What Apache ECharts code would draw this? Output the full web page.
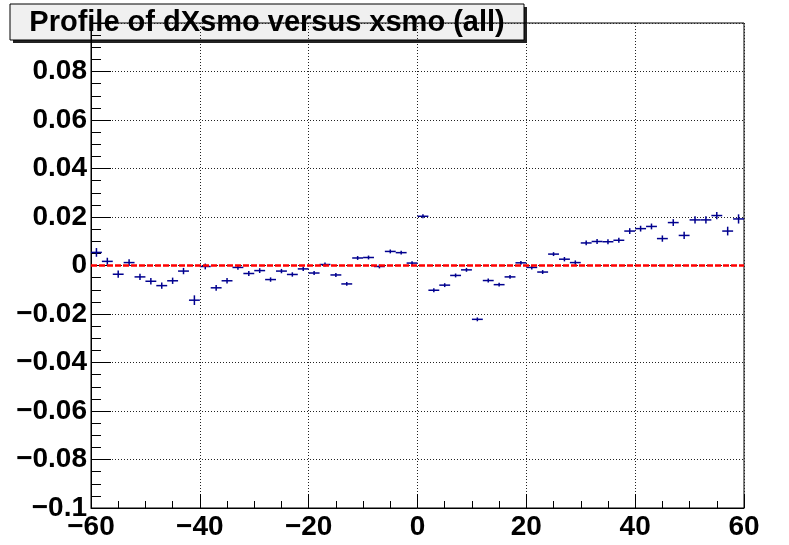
<!DOCTYPE html>
<html>
<head>
<meta charset="utf-8">
<script src="https://cdn.jsdelivr.net/npm/echarts@6/dist/echarts.min.js"></script>
<style>
html,body{margin:0;padding:0;background:#fff;}
#chart{width:789px;height:545px;}
</style>
</head>
<body>
<div id="chart"></div>
<script>
// bin centres (xsmo)
var binCenters = [-59,-57,-55,-53,-51,-49,-47,-45,-43,-41,-39,-37,-35,-33,-31,-29,-27,-25,-23,-21,
  -19,-17,-15,-13,-11,-9,-7,-5,-3,-1,1,3,5,7,9,11,13,15,17,19,
  21,23,25,27,29,31,33,35,37,39,41,43,45,47,49,51,53,55,57,59];
// profile means (dXsmo)
var profileMeans = [0.0054,0.0017,-0.0036,0.0012,-0.0047,-0.0065,-0.0083,-0.0063,-0.0023,-0.0143,
  -0.0004,-0.0092,-0.0063,-0.0008,-0.0033,-0.0021,-0.0058,-0.0023,-0.0037,-0.0014,
  -0.0031,0.0004,-0.0039,-0.0076,0.0031,0.0033,-0.0004,0.0058,0.0053,0.0010,
  0.0203,-0.0102,-0.0081,-0.0041,-0.0018,-0.0222,-0.0062,-0.0079,-0.0047,0.0011,
  -0.0008,-0.0027,0.0047,0.0026,0.0012,0.0093,0.0099,0.0098,0.0104,0.0142,
  0.0152,0.0161,0.0111,0.0177,0.0124,0.0188,0.0188,0.0206,0.0142,0.0192];
// errors on the means
var profileErrors = [0.0018,0.0015,0.0015,0.0014,0.0013,0.0013,0.0013,0.0013,0.0013,0.0020,
  0.0012,0.0012,0.0011,0.0010,0.0010,0.0010,0.0009,0.0009,0.0009,0.0009,
  0.0008,0.0008,0.0008,0.0008,0.0008,0.0008,0.0008,0.0008,0.0008,0.0008,
  0.0008,0.0008,0.0008,0.0008,0.0008,0.0008,0.0008,0.0008,0.0008,0.0008,
  0.0008,0.0008,0.0008,0.0009,0.0009,0.0010,0.0010,0.0010,0.0010,0.0012,
  0.0012,0.0012,0.0013,0.0014,0.0015,0.0015,0.0015,0.0015,0.0018,0.0019];
var binHalfWidth = 1;
var xTickValues = [-60,-40,-20,0,20,40,60];
var xTickLabels = ['\u221260','\u221240','\u221220','0','20','40','60'];
var yTickValues = [-0.1,-0.08,-0.06,-0.04,-0.02,0,0.02,0.04,0.06,0.08,0.1];
var yTickLabels = ['\u22120.1','\u22120.08','\u22120.06','\u22120.04','\u22120.02','0','0.02','0.04','0.06','0.08',''];
var titleText = 'Profile of dXsmo versus xsmo (all)';

var data = binCenters.map(function(x,i){ return [x, profileMeans[i], profileErrors[i]]; });

function nearestLabel(v, vals, labels){
  var best = 0, bd = Infinity;
  for (var i=0;i<vals.length;i++){ var d=Math.abs(vals[i]-v); if(d<bd){bd=d;best=i;} }
  return labels[best];
}

var chart = echarts.init(document.getElementById('chart'), null, {renderer:'canvas'});
var labelFont = {fontFamily:'"Liberation Sans", Arial, sans-serif', fontWeight:'bold', fontSize:28, color:'#000'};
var gridLine = {show:true, lineStyle:{color:'#222', width:1, type:[1,2]}};

chart.setOption({
  animation:false,
  backgroundColor:'#fff',
  title:{
    text:titleText, left:267, top:8, textAlign:'center', padding:0,
    textStyle:{fontFamily:'"Liberation Sans", Arial, sans-serif', fontWeight:'bold', fontSize:29, color:'#000'}
  },
  graphic:[
    {type:'rect', shape:{x:13,y:7,width:514,height:36}, style:{fill:'#222'}, z:-1, silent:true},
    {type:'rect', shape:{x:10,y:4,width:514,height:36}, style:{fill:'#f0f0f0', stroke:'#000', lineWidth:1}, z:-1, silent:true}
  ],
  grid:{left:91, right:45, top:23, bottom:37, show:true, borderColor:'#000', borderWidth:1, backgroundColor:'transparent'},
  xAxis:{
    type:'value', min:-60, max:60, interval:20,
    axisLine:{show:true, onZero:false, lineStyle:{color:'#000', width:1}},
    axisTick:{show:true, inside:true, length:14, lineStyle:{color:'#000'}},
    minorTick:{show:true, splitNumber:4, length:7, lineStyle:{color:'#000'}},
    splitLine:gridLine,
    axisLabel:Object.assign({margin:5, formatter:function(v){return nearestLabel(v,xTickValues,xTickLabels);}}, labelFont)
  },
  yAxis:{
    type:'value', min:-0.1, max:0.1, interval:0.02,
    axisLine:{show:true, onZero:false, lineStyle:{color:'#000', width:1}},
    axisTick:{show:true, inside:true, length:20, lineStyle:{color:'#000'}},
    minorTick:{show:true, splitNumber:4, length:10, lineStyle:{color:'#000'}},
    splitLine:gridLine,
    axisLabel:Object.assign({margin:4, showMaxLabel:false, formatter:function(v){return nearestLabel(v,yTickValues,yTickLabels);}}, labelFont)
  },
  series:[{
    type:'custom',
    data:data,
    encode:{x:0, y:1},
    renderItem:function(params, api){
      var x = api.value(0), y = api.value(1), e = api.value(2);
      var l = api.coord([x-binHalfWidth, y]), r = api.coord([x+binHalfWidth, y]);
      var b = api.coord([x, y-e]), t = api.coord([x, y+e]);
      var st = {stroke:'#00008f', lineWidth:1.5};
      return {type:'group', children:[
        {type:'line', shape:{x1:l[0],y1:l[1],x2:r[0],y2:r[1]}, style:st},
        {type:'line', shape:{x1:b[0],y1:b[1],x2:t[0],y2:t[1]}, style:st}
      ]};
    },
    markLine:{
      silent:true, symbol:['none','none'], label:{show:false},
      lineStyle:{color:'#ff0000', width:2.5, type:[6,2]},
      data:[{yAxis:0}]
    },
    z:3
  }]
});
</script>
</body>
</html>
